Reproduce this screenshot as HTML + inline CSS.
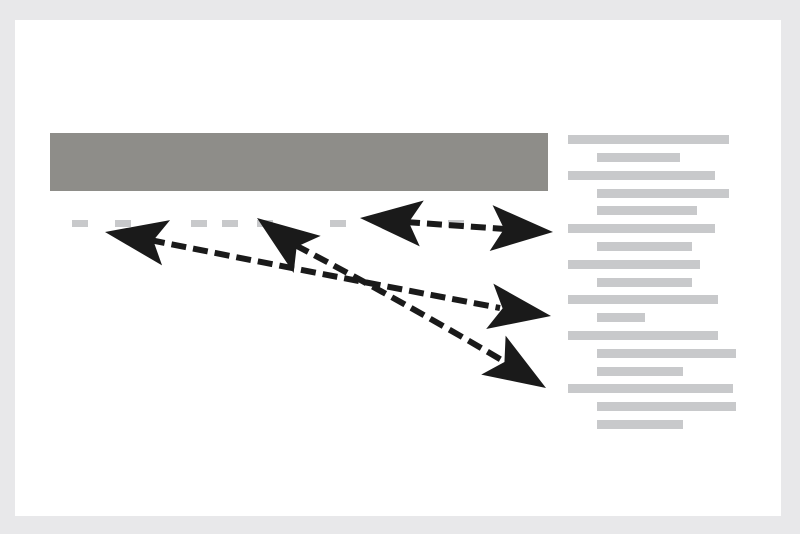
<!DOCTYPE html>
<html><head><style>
html,body{margin:0;padding:0;background:#e8e8ea;}
svg{display:block}
</style></head><body>
<svg width="800" height="534" viewBox="0 0 800 534" xmlns="http://www.w3.org/2000/svg">
<rect x="0" y="0" width="800" height="534" fill="#e8e8ea"/>
<rect x="15" y="20" width="766" height="496" fill="#ffffff"/>
<rect x="50" y="133" width="498" height="58" fill="#8e8d89"/>
<g fill="#c8c9cb">
<rect x="568" y="135" width="161" height="9"/>
<rect x="597" y="153" width="83" height="9"/>
<rect x="568" y="171" width="147" height="9"/>
<rect x="597" y="189" width="132" height="9"/>
<rect x="597" y="206" width="100" height="9"/>
<rect x="568" y="224" width="147" height="9"/>
<rect x="597" y="242" width="95" height="9"/>
<rect x="568" y="260" width="132" height="9"/>
<rect x="597" y="278" width="95" height="9"/>
<rect x="568" y="295" width="150" height="9"/>
<rect x="597" y="313" width="48" height="9"/>
<rect x="568" y="331" width="150" height="9"/>
<rect x="597" y="349" width="139" height="9"/>
<rect x="597" y="367" width="86" height="9"/>
<rect x="568" y="384" width="165" height="9"/>
<rect x="597" y="402" width="139" height="9"/>
<rect x="597" y="420" width="86" height="9"/>
<rect x="72" y="220" width="16" height="7"/>
<rect x="115" y="220" width="16" height="7"/>
<rect x="191" y="220" width="16" height="7"/>
<rect x="222" y="220" width="16" height="7"/>
<rect x="257" y="220" width="16" height="7"/>
<rect x="330" y="220" width="16" height="7"/>
<rect x="448" y="220" width="16" height="7"/>
</g>
<g fill="none" stroke="#1a1a1a" stroke-width="6" stroke-dasharray="15 7">
<path d="M405,222 L505,229"/>
<path d="M150,240 Q320,274 500,308"/>
<path d="M295,245 Q400,300 505,362"/>
</g>
<g fill="#1a1a1a">
<path d="M0,0 L-62,-23 L-49,0 L-62,23 Z" transform="translate(360,218) rotate(185)"/>
<path d="M0,0 L-62,-23 L-49,0 L-62,23 Z" transform="translate(553,232) rotate(3.6)"/>
<path d="M0,0 L-62,-23 L-49,0 L-62,23 Z" transform="translate(105,232) rotate(190)"/>
<path d="M0,0 L-62,-23 L-49,0 L-62,23 Z" transform="translate(551,316) rotate(9)"/>
<path d="M0,0 L-62,-23 L-49,0 L-62,23 Z" transform="translate(257,218) rotate(216)"/>
<path d="M0,0 L-62,-23 L-49,0 L-62,23 Z" transform="translate(546,388) rotate(32)"/>
</g>
</svg>
</body></html>
